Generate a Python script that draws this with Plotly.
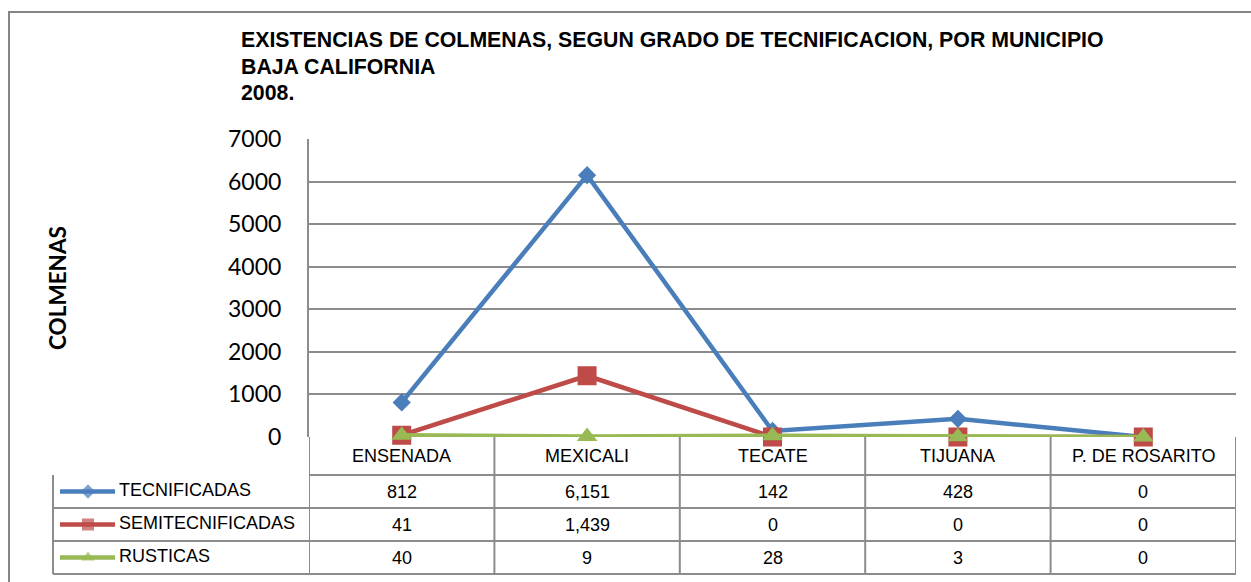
import plotly.graph_objects as go

W, H = 1251, 582

categories = ["ENSENADA", "MEXICALI", "TECATE", "TIJUANA", "P. DE ROSARITO"]
series_names = ["TECNIFICADAS", "SEMITECNIFICADAS", "RUSTICAS"]
tecnificadas = [812, 6151, 142, 428, 0]
semitecnificadas = [41, 1439, 0, 0, 0]
rusticas = [40, 9, 28, 3, 0]
y_ticks = [0, 1000, 2000, 3000, 4000, 5000, 6000, 7000]

title_lines = ["EXISTENCIAS DE COLMENAS, SEGUN GRADO DE TECNIFICACION, POR MUNICIPIO",
               "BAJA CALIFORNIA", "2008."]
y_title = "COLMENAS"

colors = ["#4A7EBB", "#BE4B48", "#98B954"]
symbols = ["diamond", "square", "triangle-up"]
msizes = [14, 19, 18]
lsizes = [11, 12, 12]
series_values = [tecnificadas, semitecnificadas, rusticas]

# layout geometry (pixels)
PX0, PX1 = 309, 1236
PY_TOP, PY0 = 139, 437
ROW_LINES = [437, 475, 508, 541, 574]
LEG_LEFT = 53
GRID = "#8c8c8c"


def px(x):
    return x / W


def py(y):
    return 1 - y / H


fig = go.Figure()

xi = list(range(len(categories)))
for name, vals, c, s, ms in zip(series_names, series_values, colors, symbols, msizes):
    fig.add_trace(go.Scatter(
        x=xi, y=vals, name=name, mode="lines+markers",
        line=dict(color=c, width=4.5),
        marker=dict(symbol=s, size=ms, color=c, line=dict(width=0)),
        cliponaxis=False, showlegend=False,
        xaxis="x", yaxis="y"))

# legend symbols in table (separate full-figure pixel axes)
for k, (c, s, ls) in enumerate(zip(colors, symbols, lsizes)):
    yc = (ROW_LINES[k + 1] + ROW_LINES[k + 2]) / 2
    fig.add_trace(go.Scatter(
        x=[60, 88, 115], y=[yc, yc, yc], mode="lines+markers",
        line=dict(color=c, width=4.5),
        marker=dict(symbol=s, size=[0, ls, 0], color=c, line=dict(width=0)),
        showlegend=False, hoverinfo="skip", cliponaxis=False,
        xaxis="x2", yaxis="y2"))

shapes = []
# outer chart border
shapes.append(dict(type="rect", xref="paper", yref="paper",
                   x0=px(9), x1=px(1262), y0=py(12), y1=py(592),
                   line=dict(color="#868686", width=2), layer="below"))
# table horizontal lines
shapes.append(dict(type="line", xref="paper", yref="paper",
                   x0=px(PX0), x1=px(PX1), y0=py(ROW_LINES[1]), y1=py(ROW_LINES[1]),
                   line=dict(color=GRID, width=2), layer="below"))
for yl in ROW_LINES[2:]:
    shapes.append(dict(type="line", xref="paper", yref="paper",
                       x0=px(LEG_LEFT), x1=px(PX1), y0=py(yl), y1=py(yl),
                       line=dict(color=GRID, width=2), layer="below"))
# legend column left border
shapes.append(dict(type="line", xref="paper", yref="paper",
                   x0=px(LEG_LEFT), x1=px(LEG_LEFT), y0=py(ROW_LINES[1]), y1=py(ROW_LINES[-1]),
                   line=dict(color=GRID, width=2), layer="below"))
# column boundaries
for i in range(len(categories) + 1):
    shapes.append(dict(type="line", xref="x", yref="paper",
                       x0=i - 0.5, x1=i - 0.5, y0=py(PY0), y1=py(ROW_LINES[-1]),
                       line=dict(color=GRID, width=2), layer="below"))

annotations = []
tfont = dict(family="Liberation Sans, Arial", size=18, color="black")
for i, cat in enumerate(categories):
    annotations.append(dict(xref="x", yref="paper", x=i, y=py(456), text=cat,
                            showarrow=False, font=tfont, xanchor="center", yanchor="middle"))
for k, (name, vals) in enumerate(zip(series_names, series_values)):
    yc = (ROW_LINES[k + 1] + ROW_LINES[k + 2]) / 2
    annotations.append(dict(xref="paper", yref="paper", x=px(117), y=py(yc - 2), text=name,
                            showarrow=False, font=tfont, xanchor="left", yanchor="middle"))
    for i, v in enumerate(vals):
        annotations.append(dict(xref="x", yref="paper", x=i, y=py(yc), text=f"{v:,}",
                                showarrow=False, font=tfont, xanchor="center", yanchor="middle"))

for line, yc in zip(title_lines, [40, 67, 93]):
    annotations.append(dict(xref="paper", yref="paper", x=px(239), y=py(yc), text=f"<b>{line}</b>",
                            showarrow=False, xanchor="left", yanchor="middle",
                            font=dict(family="Liberation Sans, Arial", size=21.3, color="black")))

annotations.append(dict(xref="paper", yref="paper", x=px(57), y=py(288), text=f"<b>{y_title}</b>",
                        showarrow=False, textangle=-90, xanchor="center", yanchor="middle",
                        font=dict(family="Lato", size=22.5, color="black")))

fig.update_layout(
    width=W, height=H,
    margin=dict(l=0, r=0, t=0, b=0, pad=0, autoexpand=False),
    paper_bgcolor="white", plot_bgcolor="rgba(0,0,0,0)",
    xaxis=dict(domain=[px(PX0), px(PX1)], range=[-0.5, len(categories) - 0.5],
               showticklabels=False, showgrid=False, zeroline=False, ticks="",
               showline=False, fixedrange=True, automargin=False),
    yaxis=dict(domain=[py(PY0), py(PY_TOP)], range=[0, 7000], tickvals=y_ticks,
               ticktext=[str(t) for t in y_ticks],
               showgrid=True, gridcolor=GRID, gridwidth=2, zeroline=False,
               showline=True, linecolor=GRID, linewidth=2, ticks="",
               ticklabelstandoff=21, automargin=False,
               tickfont=dict(family="Lato", size=23, color="black")),
    xaxis2=dict(domain=[0, 1], range=[0, W], visible=False, anchor="y2", automargin=False),
    yaxis2=dict(domain=[0, 1], range=[H, 0], visible=False, anchor="x2", automargin=False),
    shapes=shapes, annotations=annotations,
    showlegend=False,
)

fig.write_html("out.html", config={"displayModeBar": False},
               post_script="document.body.style.margin='0px';")
